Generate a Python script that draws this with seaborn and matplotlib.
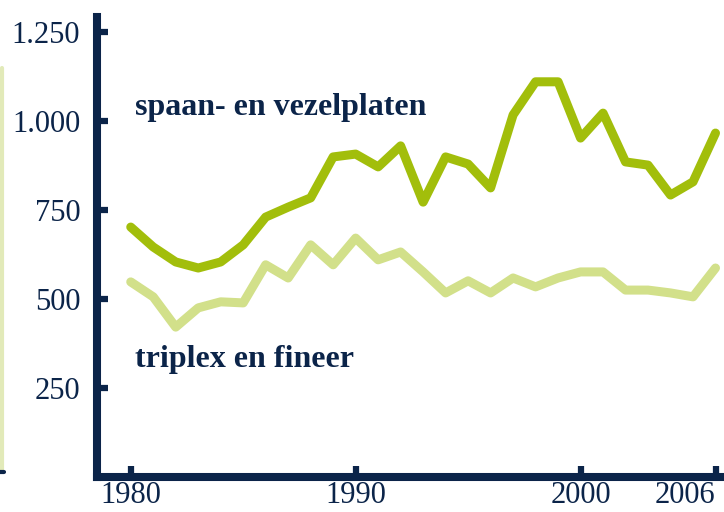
import matplotlib
matplotlib.use("Agg")
import matplotlib.pyplot as plt
from matplotlib.lines import Line2D
import seaborn as sns
import pandas as pd

# Data (x 1000 m3, NL)
years = list(range(1980, 2007))
spaan_vezel = [702, 646, 604, 587, 604, 652, 730, 758, 784, 899, 907, 871, 930, 772,
               899, 879, 812, 1017, 1110, 1110, 952, 1022, 885, 876, 792, 829, 966]
triplex_fineer = [548, 506, 421, 475, 492, 489, 596, 559, 652, 596, 671, 610, 632, 576,
                  517, 551, 517, 559, 534, 559, 576, 576, 525, 525, 517, 506, 587]
series_labels = ["spaan- en vezelplaten", "triplex en fineer"]
x_ticks = [1980, 1990, 2000, 2006]
y_ticks = [250, 500, 750, 1000, 1250]
y_tick_labels = ["250", "500", "750", "1.000", "1.250"]

NAVY = "#0b2449"
DARK_GREEN = "#a2be0b"
LIGHT_GREEN = "#d2e08a"

sns.set_style("ticks")
plt.rcParams["font.family"] = ["Liberation Serif", "DejaVu Serif"]

df = pd.DataFrame({"jaar": years, "spaan": spaan_vezel, "triplex": triplex_fineer})

fig = plt.figure(figsize=(7.24, 5.12), dpi=100)
ax = fig.add_axes([97 / 724, 35 / 512, 623 / 724, 460 / 512])

sns.lineplot(data=df, x="jaar", y="spaan", ax=ax, color=DARK_GREEN, linewidth=6.5)
sns.lineplot(data=df, x="jaar", y="triplex", ax=ax, color=LIGHT_GREEN, linewidth=6.5)

ax.set_xlim(1978.5, 2006.2)
ax.set_ylim(0, 1292)

ax.set_xticks(x_ticks)
ax.set_xticklabels([str(t) for t in x_ticks])
ax.set_yticks(y_ticks)
ax.set_yticklabels(y_tick_labels)
ax.set_xlabel("")
ax.set_ylabel("")

for side in ["top", "right"]:
    ax.spines[side].set_visible(False)
for side in ["left", "bottom"]:
    ax.spines[side].set_color(NAVY)
    ax.spines[side].set_linewidth(5.8)

ax.tick_params(axis="both", direction="in", length=8, width=4.5, color=NAVY,
               labelcolor=NAVY, labelsize=22)
ax.tick_params(axis="y", pad=12)
ax.tick_params(axis="x", pad=3)

# last year label sits flush with the right edge
last = ax.get_xticklabels()[-1]
last.set_horizontalalignment("right")
last.set_x(2006.3)

# series labels inside the plot
ax.text(1980.2, 1017, series_labels[0], color=NAVY, fontsize=23, fontweight="bold",
        ha="left", va="baseline")
ax.text(1980.2, 309, series_labels[1], color=NAVY, fontsize=23, fontweight="bold",
        ha="left", va="baseline")

# sliver of the neighbouring panel at the far left edge
fig.add_artist(Line2D([2 / 724, 2 / 724], [42 / 512, 444 / 512], color="#e2eab9",
                      linewidth=3, transform=fig.transFigure))
fig.add_artist(Line2D([0, 4 / 724], [40 / 512, 40 / 512], color=NAVY,
                      linewidth=3, transform=fig.transFigure))

fig.savefig("out.png", dpi=100)
